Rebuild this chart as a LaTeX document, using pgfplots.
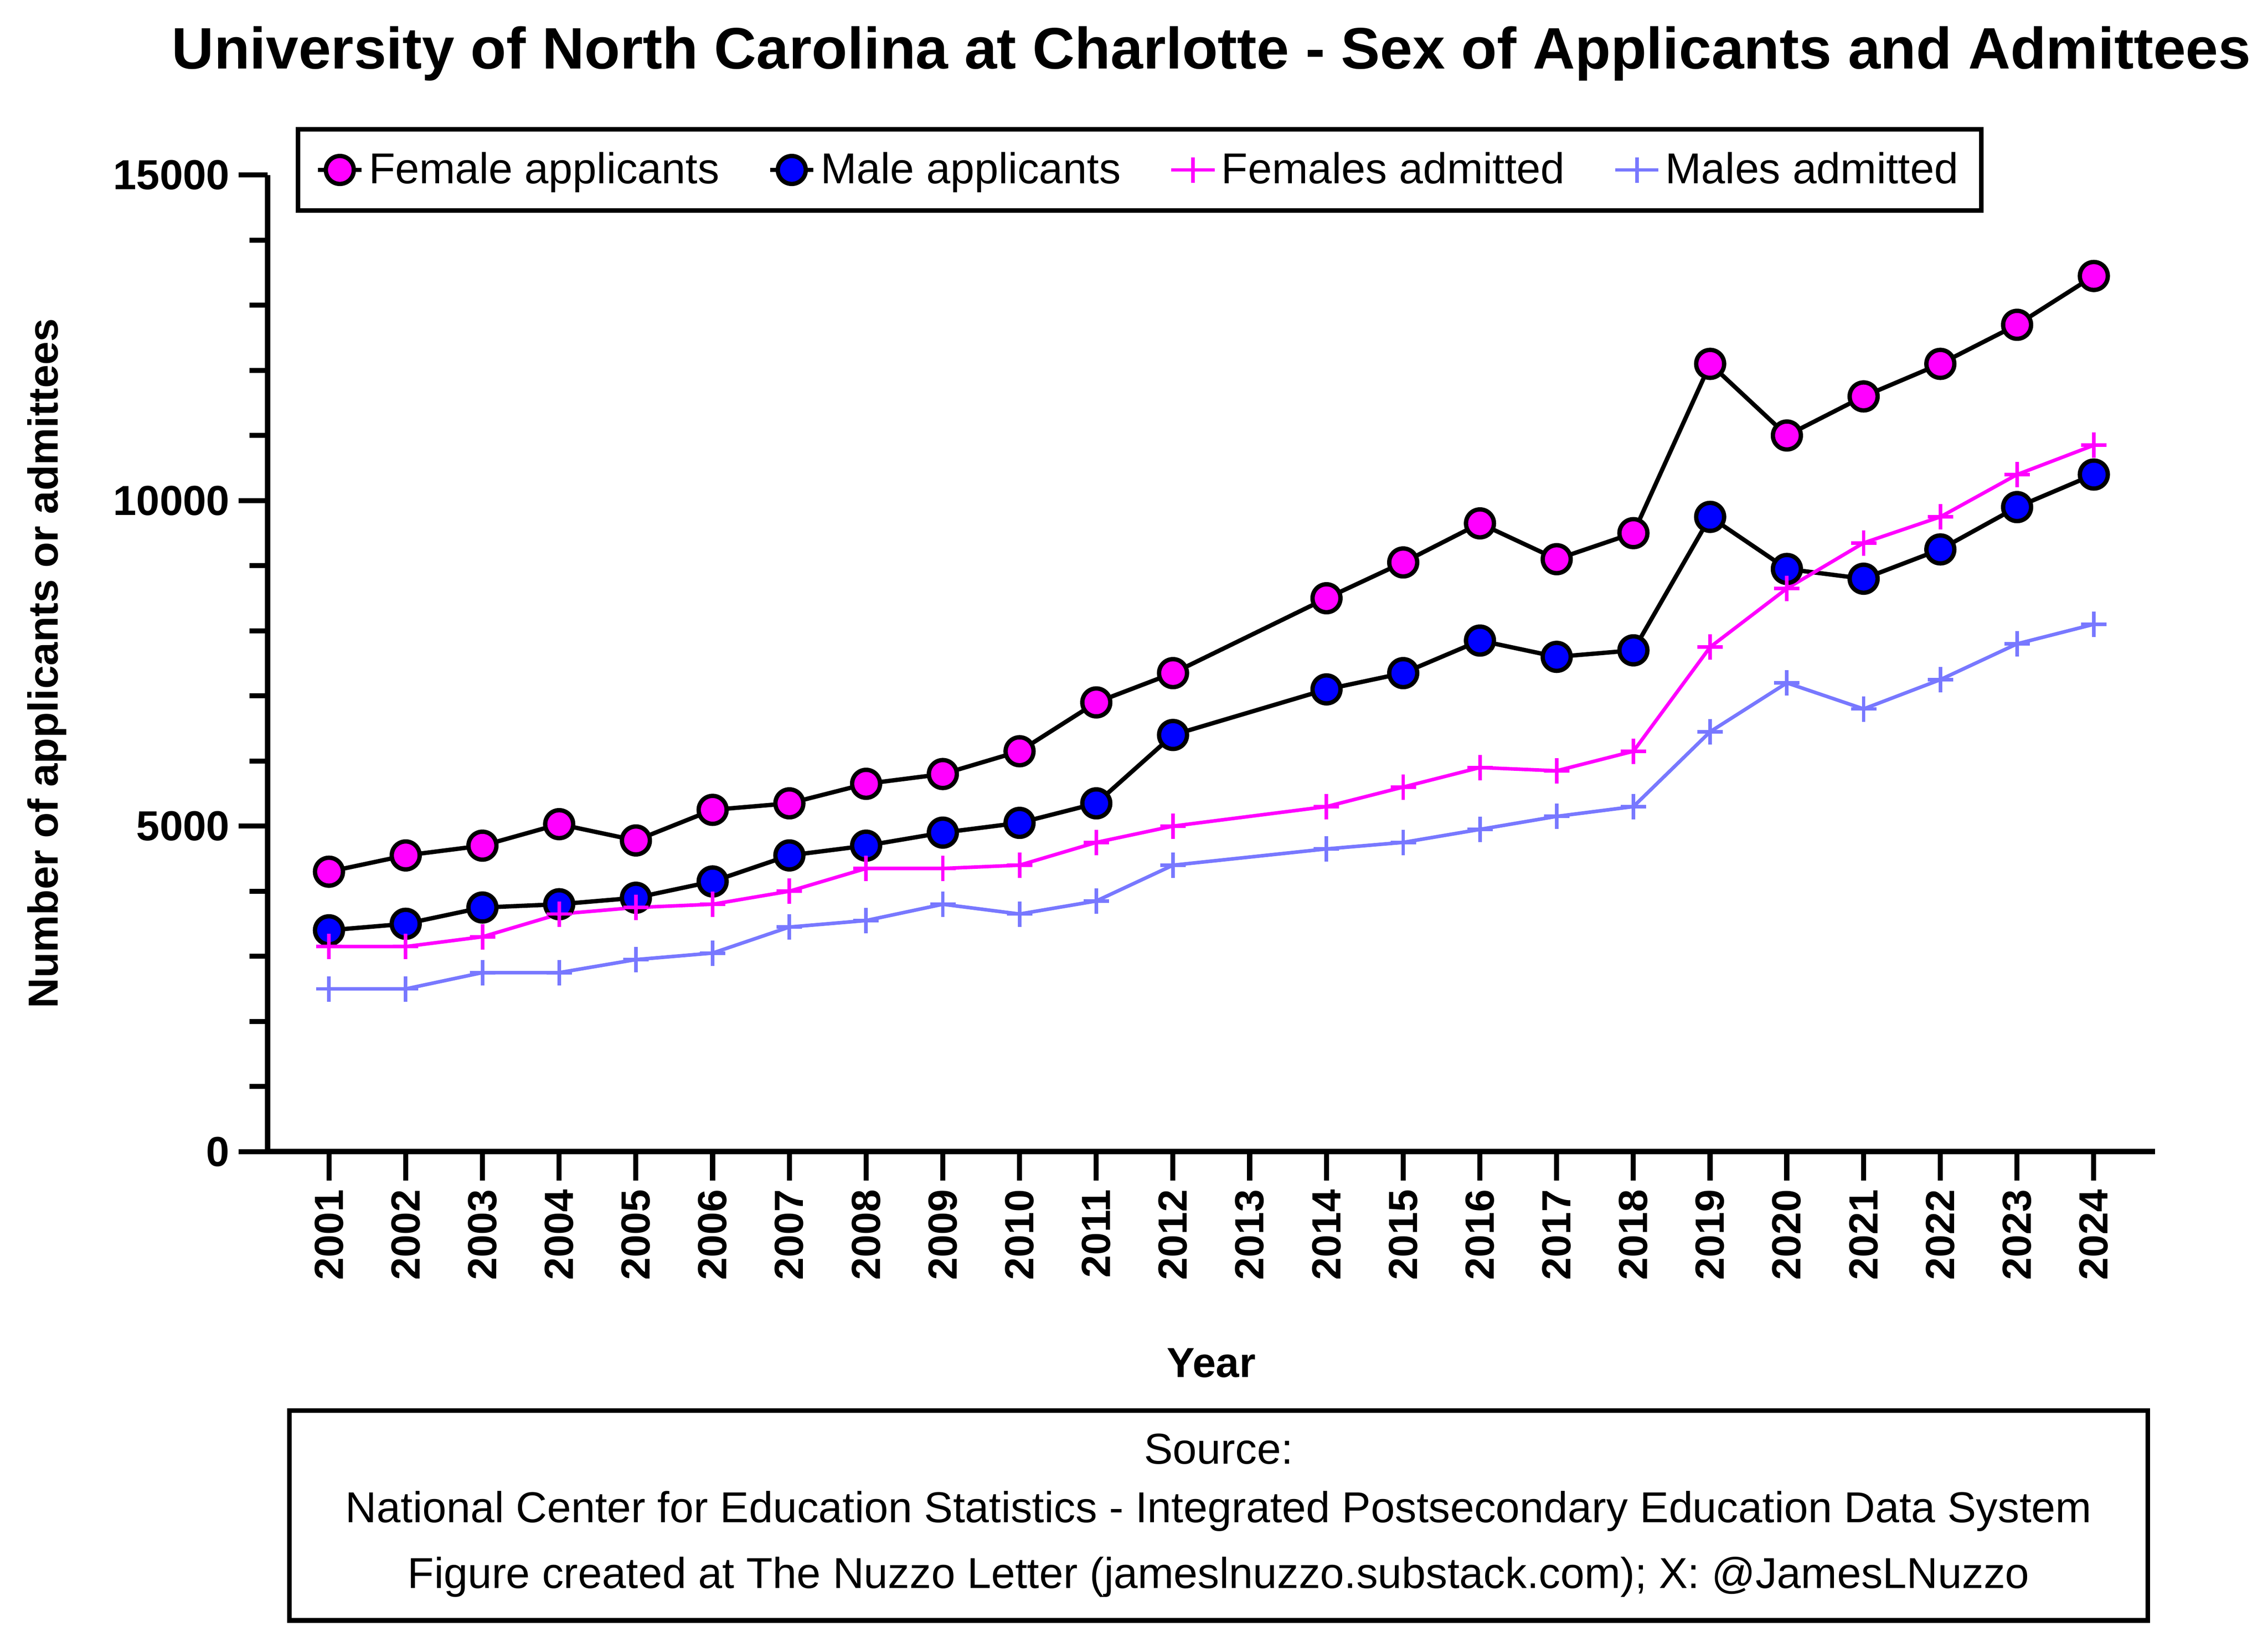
\documentclass[border=0pt]{standalone}
\usepackage{pgfplots}
\pgfplotsset{compat=1.18}
\usepackage{fontspec}
\setmainfont{Liberation Sans}
\definecolor{mag}{RGB}{255,0,255}
\definecolor{blu}{RGB}{0,0,255}
\definecolor{lblu}{RGB}{120,120,255}
\begin{document}
\begin{tikzpicture}
\path[use as bounding box] (-3.7,-6.64) rectangle (27.66,15.92);
\begin{axis}[
 scale only axis, width=26.1cm, height=13.5cm,
 at={(0,0)},
 xmin=2000.2, xmax=2024.8, ymin=0, ymax=15000,
 axis x line*=bottom, axis y line*=left,
 axis line style={line width=2.2pt},
 every tick/.style={line width=2pt,black},
 xtick={2001,...,2024},
 xticklabel style={rotate=90,anchor=east,font=\fontsize{16}{16}\selectfont\bfseries},
 xticklabels={2001,2002,2003,2004,2005,2006,2007,2008,2009,2010,2011,2012,2013,2014,2015,2016,2017,2018,2019,2020,2021,2022,2023,2024},
 ytick={0,5000,10000,15000},
 minor y tick num=4,
 yticklabel style={font=\fontsize{16.5}{16}\selectfont\bfseries},
 /pgf/number format/assume math mode=true,
 scaled y ticks=false,
 y tick label style={/pgf/number format/1000 sep={}},
 major tick length=0.4cm, minor tick length=0.25cm,
 tick align=outside,
 xlabel={\fontsize{16.5}{16}\selectfont\bfseries Year},
 xlabel style={yshift=-0.7cm},
 ylabel={\fontsize{16.5}{16}\selectfont\bfseries Number of applicants or admittees},
 ylabel style={yshift=0.4cm},
 legend style={at={(0.015,1.049)},anchor=north west,draw=black,line width=1.8pt,
   font=\fontsize{17}{17}\selectfont, legend columns=4, inner sep=7pt,
   /tikz/every even column/.style={column sep=0.6cm}, row sep=5pt},
 legend cell align=left,
]
\addplot[black,line width=1.7pt,mark=*,mark size=5.5pt,mark options={fill=mag,line width=1.7pt}] coordinates {
(2001,4300)(2002,4550)(2003,4700)(2004,5030)(2005,4780)(2006,5250)(2007,5350)(2008,5650)(2009,5800)(2010,6150)(2011,6900)(2012,7350)(2014,8500)(2015,9050)(2016,9650)(2017,9100)(2018,9500)(2019,12100)(2020,11000)(2021,11600)(2022,12100)(2023,12700)(2024,13450)};
\addlegendentry{Female applicants}
\addplot[black,line width=1.7pt,mark=*,mark size=5.5pt,mark options={fill=blu,line width=1.7pt}] coordinates {
(2001,3400)(2002,3500)(2003,3750)(2004,3800)(2005,3900)(2006,4150)(2007,4550)(2008,4700)(2009,4900)(2010,5050)(2011,5350)(2012,6400)(2014,7100)(2015,7350)(2016,7850)(2017,7600)(2018,7700)(2019,9750)(2020,8950)(2021,8800)(2022,9250)(2023,9900)(2024,10400)};
\addlegendentry{Male applicants}
\addplot[mag,line width=1.4pt,mark=+,mark size=5pt] coordinates {
(2001,3150)(2002,3150)(2003,3300)(2004,3650)(2005,3750)(2006,3800)(2007,4000)(2008,4350)(2009,4350)(2010,4400)(2011,4750)(2012,5000)(2014,5300)(2015,5600)(2016,5900)(2017,5850)(2018,6150)(2019,7750)(2020,8650)(2021,9350)(2022,9750)(2023,10400)(2024,10850)};
\addlegendentry{Females admitted}
\addplot[lblu,line width=1.4pt,mark=+,mark size=5pt] coordinates {
(2001,2500)(2002,2500)(2003,2750)(2004,2750)(2005,2950)(2006,3050)(2007,3450)(2008,3550)(2009,3800)(2010,3650)(2011,3850)(2012,4400)(2014,4650)(2015,4750)(2016,4950)(2017,5150)(2018,5300)(2019,6450)(2020,7200)(2021,6800)(2022,7250)(2023,7800)(2024,8100)};
\addlegendentry{Males admitted}
\end{axis}
\node[font=\fontsize{23}{24}\selectfont\bfseries] at (13.05,15.92-0.74) {University of North Carolina at Charlotte - Sex of Applicants and Admittees};
\draw[line width=1.8pt] (0.3,-3.58) rectangle (26,-6.48);
\node[align=center,font=\fontsize{17}{23}\selectfont] at (13.15,-5.03) {Source:\\National Center for Education Statistics - Integrated Postsecondary Education Data System\\[3pt]Figure created at The Nuzzo Letter (jameslnuzzo.substack.com); X: @JamesLNuzzo};
\end{tikzpicture}
\end{document}
